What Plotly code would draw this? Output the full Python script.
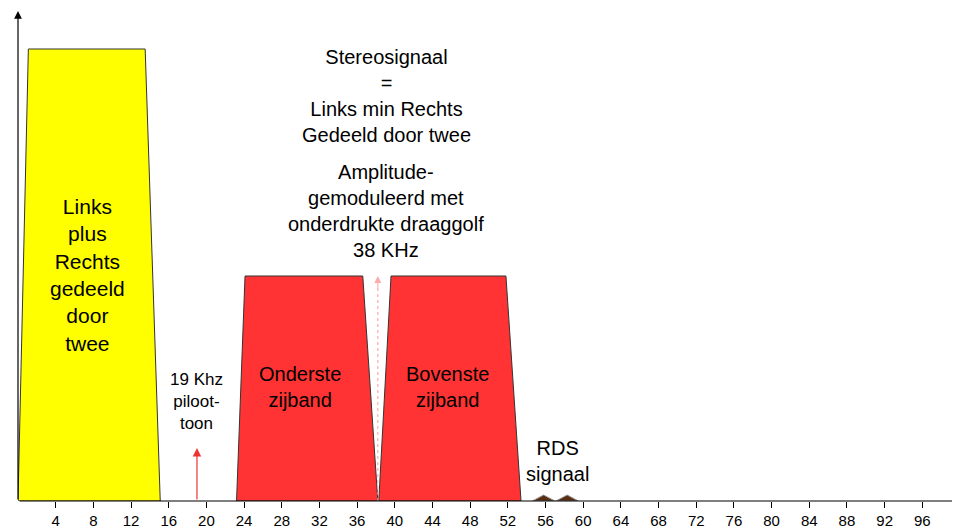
import plotly.graph_objects as go

# band shapes (x in kHz, y in relative amplitude)
yellow_x = [0, 1.1, 13.5, 15.1, 0]
yellow_y = [0, 452, 452, 0, 0]
lsb_x = [23.2, 24.1, 36.6, 38.2, 23.2]
lsb_y = [0, 225, 225, 0, 0]
usb_x = [38.3, 39.6, 51.8, 53.4, 38.3]
usb_y = [0, 225, 225, 0, 0]
rds1_x = [54.6, 55.8, 57.0]
rds2_x = [57.1, 58.3, 59.5]
rds_y = [0, 6, 0]
pilot_x = 19
pilot_h = 53
carrier_x = 38.2
carrier_h = 225
tick_vals = list(range(4, 100, 4))

fig = go.Figure()
for xs, ys, col in [(yellow_x, yellow_y, "#ffff00"), (lsb_x, lsb_y, "#ff3333"), (usb_x, usb_y, "#ff3333")]:
    fig.add_trace(go.Scatter(x=xs, y=ys, fill="toself", fillcolor=col, mode="lines",
                             line=dict(color="#333333", width=1), hoverinfo="skip"))
for xs in [rds1_x, rds2_x]:
    fig.add_trace(go.Scatter(x=xs + [xs[0]], y=rds_y + [0], fill="toself", fillcolor="#5a2e12",
                             mode="lines", line=dict(color="#999999", width=1), hoverinfo="skip"))

fig.add_shape(type="line", x0=carrier_x, x1=carrier_x, y0=0, y1=carrier_h - 12,
              line=dict(color="#ff9999", width=1, dash="dot"))

txt = dict(family="Liberation Sans, Arial", color="black")
anns = [
    dict(x=pilot_x, y=pilot_h, ax=pilot_x, ay=0, arrowcolor="#ee3333", arrowwidth=1.2, arrowhead=2, arrowsize=1.4),
    dict(x=carrier_x, y=carrier_h, ax=carrier_x, ay=carrier_h - 14, arrowcolor="#ffaaaa", arrowwidth=1, arrowhead=2, arrowsize=1.4),
    dict(x=0, y=490, ax=0, ay=0, arrowcolor="black", arrowwidth=1.2, arrowhead=2, arrowsize=1.3),
    dict(x=100.5, y=0, ax=0, ay=0, arrowcolor="black", arrowwidth=1.2, arrowhead=2, arrowsize=1.3),
]
for a in anns:
    fig.add_annotation(xref="x", yref="y", axref="x", ayref="y", text="", showarrow=True, standoff=0, **a)

# label text, x position, top y, font size
labels = [
    (7.4, 308, "Links<br>plus<br>Rechts<br>gedeeld<br>door<br>twee", 21),
    (39.1, 457, "Stereosignaal<br>=<br>Links min Rechts<br>Gedeeld door twee", 20),
    (39.1, 342, "Amplitude-<br>gemoduleerd met<br>onderdrukte draaggolf<br>38 KHz", 20),
    (29.9, 140, "Onderste<br>zijband", 20),
    (45.6, 140, "Bovenste<br>zijband", 20),
    (18.9, 133, "19 Khz<br>piloot-<br>toon", 17),
    (57.3, 66, "RDS<br>signaal", 20),
]
for x, y, t, s in labels:
    fig.add_annotation(x=x, y=y, text=t, showarrow=False, yanchor="top",
                       font=dict(size=s, **txt), align="center")

fig.update_layout(
    width=960, height=530, margin=dict(l=10, r=0, t=0, b=37, pad=0),
    plot_bgcolor="white", paper_bgcolor="white", showlegend=False,
    xaxis=dict(range=[0, 100.85], tickvals=tick_vals, ticks="outside", ticklen=6, tickcolor="black",
               automargin=False, showgrid=False, zeroline=False, showline=False,
               tickfont=dict(size=15, **txt)),
    yaxis=dict(range=[0, 493], showticklabels=False, showgrid=False, zeroline=False,
               showline=False, automargin=False),
)
fig.write_html("out.html")
